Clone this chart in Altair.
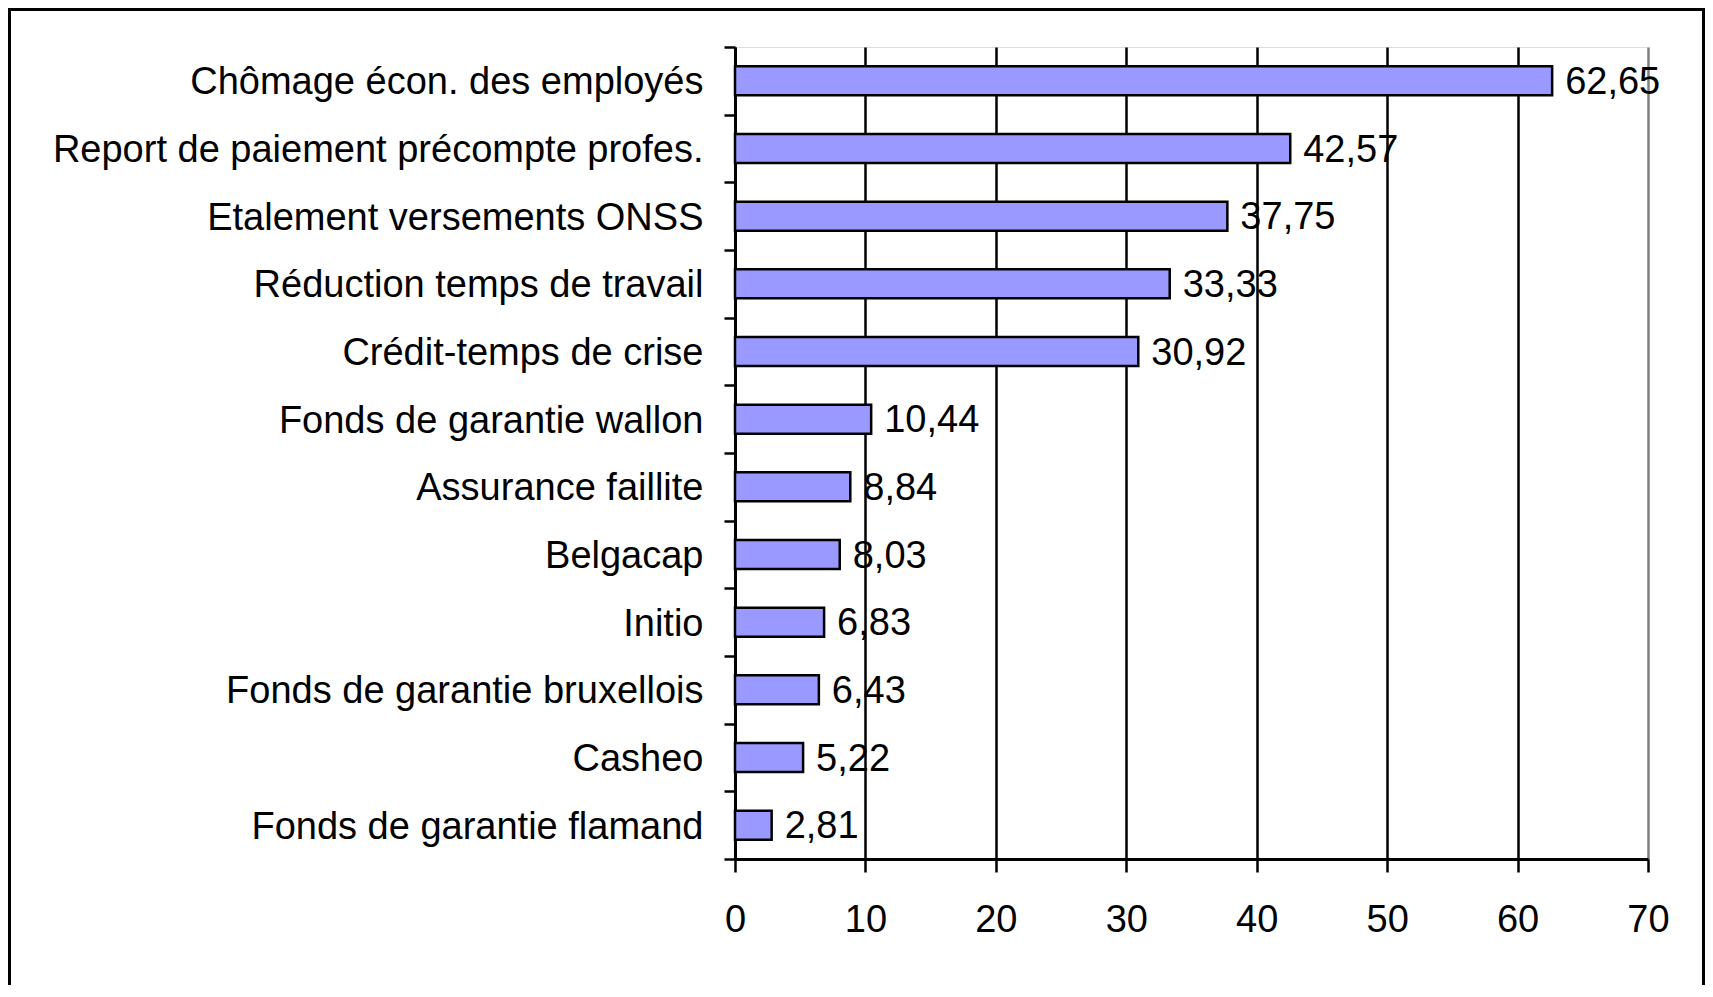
import altair as alt
import pandas as pd

categories = [
    "Chômage écon. des employés",
    "Report de paiement précompte profes.",
    "Etalement versements ONSS",
    "Réduction temps de travail",
    "Crédit-temps de crise",
    "Fonds de garantie wallon",
    "Assurance faillite",
    "Belgacap",
    "Initio",
    "Fonds de garantie bruxellois",
    "Casheo",
    "Fonds de garantie flamand",
]
values = [62.65, 42.57, 37.75, 33.33, 30.92, 10.44, 8.84, 8.03, 6.83, 6.43, 5.22, 2.81]
x_ticks = [0, 10, 20, 30, 40, 50, 60, 70]

df = pd.DataFrame({"cat": categories, "v": values})

FONT = "Liberation Sans"
W, H = 913, 812
PAD_L, PAD_T = 727, 39
SVG_W, SVG_H = 1697, 977

y_enc = alt.Y(
    "cat:N",
    sort=categories,
    title=None,
    scale=alt.Scale(paddingInner=0, paddingOuter=0),
    axis=alt.Axis(
        tickBand="extent",
        tickSize=11,
        tickWidth=2.5,
        tickColor="black",
        domainColor="black",
        domainWidth=3,
        labelFontSize=38,
        labelFont=FONT,
        labelColor="black",
        labelPadding=21,
        labelOffset=2,
        labelLimit=900,
        grid=False,
    ),
)

x_enc = alt.X(
    "v:Q",
    title=None,
    scale=alt.Scale(domain=[0, 70], nice=False),
    axis=alt.Axis(
        values=x_ticks,
        tickSize=13,
        tickWidth=2.5,
        tickColor="black",
        domainColor="black",
        domainWidth=3,
        labelFontSize=38,
        labelFont=FONT,
        labelColor="black",
        labelPadding=29,
        labelFlush=False,
        grid=True,
        gridColor={"condition": {"test": "datum.value === 70", "value": "#808080"}, "value": "black"},
        gridWidth=2.5,
        gridOpacity=1,
    ),
)

base = alt.Chart(df)

bars = base.mark_bar(fill="#9999FF", stroke="black", strokeWidth=2.5, size=29).encode(x=x_enc, y=y_enc)

labels = base.transform_calculate(
    lbl="replace(format(datum.v, '.2f'), '.', ',')"
).mark_text(
    align="left", baseline="middle", dx=13, dy=2, fontSize=38, font=FONT, color="black"
).encode(x="v:Q", y=alt.Y("cat:N", sort=categories), text="lbl:N")

frame = alt.Chart(alt.Data(values=[{"a": 1}])).mark_rect(
    filled=False, stroke="black", strokeWidth=3
).encode(
    x=alt.value(-PAD_L + 1.5),
    x2=alt.value(SVG_W - PAD_L - 1.5),
    y=alt.value(-PAD_T + 1.5),
    y2=alt.value(SVG_H - PAD_T + 10),
)

chart = alt.layer(bars, labels, frame).properties(
    width=W,
    height=H,
    autosize=alt.AutoSizeParams(type="none"),
    padding={"left": PAD_L, "top": PAD_T, "right": SVG_W - PAD_L - W, "bottom": SVG_H - PAD_T - H},
).configure_view(
    fill="#C0C0C0", stroke="#808080", strokeWidth=2
).configure(background="white")

chart.save("out.html", embed_options={"renderer": "svg", "actions": False})
